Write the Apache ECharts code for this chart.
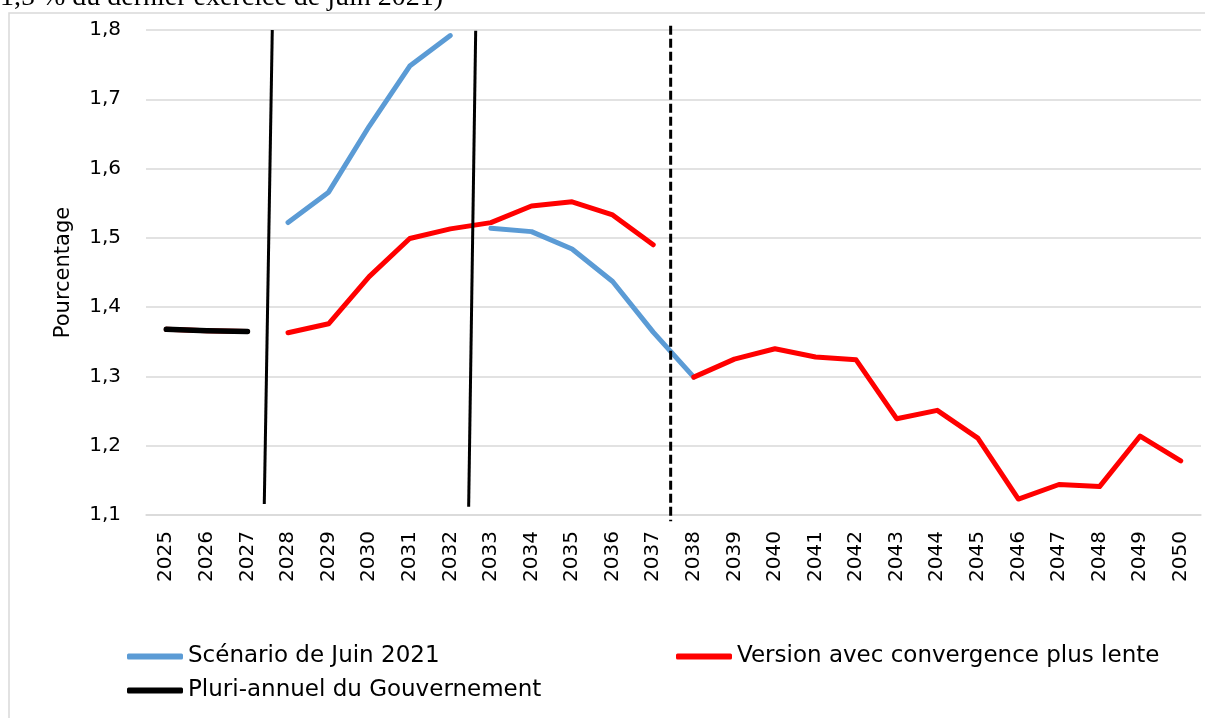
<!DOCTYPE html>
<html>
<head>
<meta charset="utf-8">
<script src="https://cdn.jsdelivr.net/npm/echarts@6/dist/echarts.min.js"></script>
<style>
html, body { margin: 0; padding: 0; background: #fff; }
#main { width: 1205px; height: 718px; }
</style>
</head>
<body>
<div id="main"></div>
<script>
// années en abscisse
const years = ['2025', '2026', '2027', '2028', '2029', '2030', '2031', '2032', '2033',
  '2034', '2035', '2036', '2037', '2038', '2039', '2040', '2041', '2042', '2043',
  '2044', '2045', '2046', '2047', '2048', '2049', '2050'];

// Scénario de Juin 2021 (deux tronçons)
const juin2021Avant = [null, null, null, 1.522, 1.566, 1.661, 1.748, 1.792, null,
  null, null, null, null, null, null, null, null, null, null,
  null, null, null, null, null, null, null];
const juin2021Apres = [null, null, null, null, null, null, null, null, 1.514,
  1.509, 1.484, 1.437, 1.364, 1.299, null, null, null, null, null,
  null, null, null, null, null, null, null];

// Version avec convergence plus lente (trois tronçons)
const lenteDebut = [1.368, 1.366, 1.365, null, null, null, null, null, null,
  null, null, null, null, null, null, null, null, null, null,
  null, null, null, null, null, null, null];
const lenteMilieu = [null, null, null, 1.363, 1.376, 1.444, 1.499, 1.513, 1.522,
  1.546, 1.552, 1.533, 1.490, null, null, null, null, null, null,
  null, null, null, null, null, null, null];
const lenteFin = [null, null, null, null, null, null, null, null, null,
  null, null, null, null, 1.299, 1.325, 1.340, 1.328, 1.324, 1.239,
  1.251, 1.211, 1.123, 1.144, 1.141, 1.214, 1.178];

// Pluri-annuel du Gouvernement
const pluriannuel = [1.368, 1.366, 1.365, null, null, null, null, null, null,
  null, null, null, null, null, null, null, null, null, null,
  null, null, null, null, null, null, null];

// traits de séparation (position en index d'année, valeur)
const separateur1 = [[2.612, 1.8], [2.415, 1.116]];
const separateur2 = [[7.625, 1.799], [7.452, 1.112]];
const separateurPointille = [[12.43, 1.806], [12.43, 1.091]];

const blue = '#5b9bd5';
const red = '#ff0000';
const font = 'DejaVu Sans';

function lineSerie(name, data, color, z, width) {
  return {
    name: name,
    type: 'line',
    data: data,
    symbol: 'none',
    z: z,
    lineStyle: { color: color, width: width, cap: 'round', join: 'round' },
    itemStyle: { color: color }
  };
}

function sepSerie(data, dashed) {
  return {
    name: 'sep',
    type: 'line',
    xAxisIndex: 1,
    data: data,
    symbol: 'none',
    clip: false,
    z: 10,
    lineStyle: { color: '#000', width: 3, type: dashed ? [9, 4] : 'solid' }
  };
}

const legendBase = {
  icon: 'roundRect',
  itemWidth: 56,
  itemHeight: 6,
  padding: 0,
  selectedMode: false,
  textStyle: { fontFamily: font, fontSize: 23, color: '#000' }
};

const chart = echarts.init(document.getElementById('main'));
chart.setOption({
  animation: false,
  backgroundColor: '#fff',
  graphic: [
    {
      type: 'rect',
      silent: true,
      z: -10,
      shape: { x: 9, y: 13, width: 1400, height: 900 },
      style: { fill: 'none', stroke: '#d9d9d9', lineWidth: 1.5 }
    },
    {
      type: 'text',
      silent: true,
      x: 0,
      y: -16,
      style: {
        text: '1,5 % du dernier exercice de juin 2021)',
        font: '28px "Liberation Serif"',
        fill: '#000'
      }
    }
  ],
  legend: [
    Object.assign({ data: ['Scénario de Juin 2021'], left: 127, top: 645 }, legendBase),
    Object.assign({ data: ['Version avec convergence plus lente'], left: 676, top: 645 }, legendBase),
    Object.assign({ data: ['Pluri-annuel du Gouvernement'], left: 127, top: 679 }, legendBase)
  ],
  grid: { left: 146, right: 4, top: 30, bottom: 203 },
  xAxis: [
    {
      type: 'category',
      data: years,
      boundaryGap: true,
      axisLine: { show: true, lineStyle: { color: '#d9d9d9', width: 1.5 } },
      axisTick: { show: false },
      axisLabel: { rotate: 90, margin: 16, fontFamily: font, fontSize: 20, color: '#000' }
    },
    { type: 'value', min: -0.5, max: 25.5, show: false }
  ],
  yAxis: {
    type: 'value',
    min: 1.1,
    max: 1.8,
    interval: 0.1,
    name: 'Pourcentage',
    nameLocation: 'middle',
    nameGap: 72,
    nameTextStyle: { fontFamily: font, fontSize: 21, color: '#000' },
    axisLine: { show: false },
    axisTick: { show: false },
    axisLabel: {
      margin: 25,
      fontFamily: font,
      fontSize: 20,
      color: '#000',
      formatter: function (v) { return v.toFixed(1).replace('.', ','); }
    },
    splitLine: { lineStyle: { color: '#d9d9d9', width: 1.5 } }
  },
  series: [
    lineSerie('Scénario de Juin 2021', juin2021Avant, blue, 2, 5),
    lineSerie('Scénario de Juin 2021', juin2021Apres, blue, 2, 5),
    lineSerie('Version avec convergence plus lente', lenteDebut, red, 3, 5),
    lineSerie('Version avec convergence plus lente', lenteMilieu, red, 3, 5),
    lineSerie('Version avec convergence plus lente', lenteFin, red, 3, 5),
    lineSerie('Pluri-annuel du Gouvernement', pluriannuel, '#000', 4, 5.5),
    sepSerie(separateur1, false),
    sepSerie(separateur2, false),
    sepSerie(separateurPointille, true)
  ]
});
</script>
</body>
</html>
